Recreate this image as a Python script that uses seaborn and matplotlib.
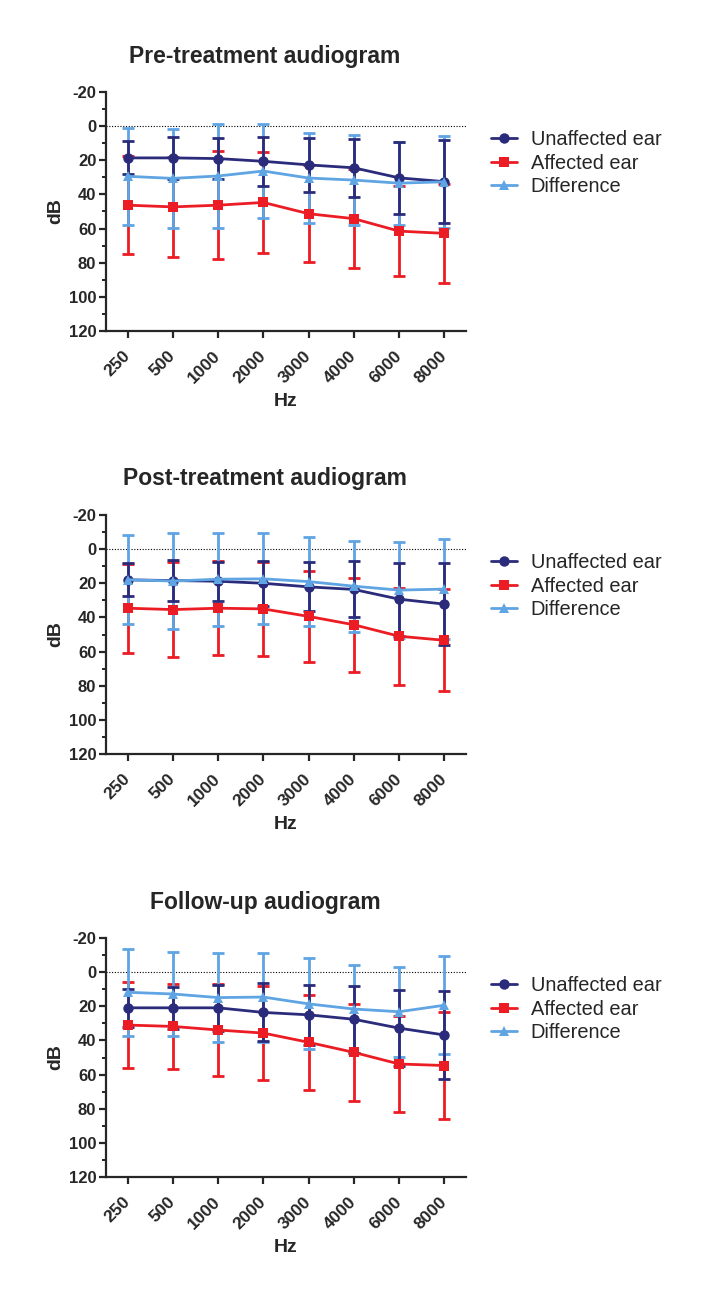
import matplotlib
matplotlib.use("Agg")
import matplotlib.pyplot as plt
import seaborn as sns
import pandas as pd
from matplotlib.ticker import MultipleLocator

freqs = ['250', '500', '1000', '2000', '3000', '4000', '6000', '8000']
titles = ['Pre-treatment audiogram', 'Post-treatment audiogram', 'Follow-up audiogram']
series_names = ['Unaffected ear', 'Affected ear', 'Difference']

# pre-treatment (mean, SD)
pre_unaff = [18.6, 18.6, 19.0, 20.6, 22.7, 24.4, 30.3, 32.5]
pre_unaff_sd = [9.7, 12.2, 12.2, 14.3, 15.8, 17.0, 21.0, 24.2]
pre_aff = [46.3, 47.3, 46.3, 44.7, 51.3, 54.2, 61.5, 62.8]
pre_aff_sd = [28.6, 29.3, 31.6, 29.5, 28.4, 29.1, 26.5, 29.0]
pre_diff = [29.4, 30.6, 29.2, 26.3, 30.4, 31.6, 33.4, 32.6]
pre_diff_sd = [28.6, 29.1, 30.7, 27.8, 26.5, 26.2, 24.4, 26.8]

# post-treatment
post_unaff = [18.0, 18.4, 18.8, 20.0, 22.1, 23.6, 29.3, 32.2]
post_unaff_sd = [9.6, 11.9, 11.5, 13.1, 14.4, 16.4, 21.3, 24.0]
post_aff = [34.6, 35.4, 34.6, 35.0, 39.4, 44.3, 51.0, 53.4]
post_aff_sd = [26.0, 28.0, 27.4, 27.5, 26.6, 27.4, 28.5, 29.8]
post_diff = [17.9, 18.7, 17.6, 17.4, 19.0, 21.7, 24.0, 23.4]
post_diff_sd = [26.1, 28.1, 27.3, 26.7, 26.2, 26.6, 28.0, 29.1]

# follow-up
fu_unaff = [20.9, 20.9, 20.9, 23.6, 25.0, 27.6, 32.8, 36.8]
fu_unaff_sd = [11.2, 12.4, 13.3, 17.0, 17.6, 19.6, 22.3, 26.0]
fu_aff = [31.0, 31.8, 33.9, 35.7, 41.1, 47.0, 53.8, 54.7]
fu_aff_sd = [25.0, 24.8, 26.7, 27.6, 28.0, 28.4, 28.4, 31.3]
fu_diff = [11.8, 12.8, 14.9, 14.6, 18.6, 21.6, 23.2, 19.4]
fu_diff_sd = [25.5, 24.7, 25.9, 26.1, 26.6, 25.6, 26.4, 28.6]

panels = [
    (pre_unaff, pre_unaff_sd, pre_aff, pre_aff_sd, pre_diff, pre_diff_sd),
    (post_unaff, post_unaff_sd, post_aff, post_aff_sd, post_diff, post_diff_sd),
    (fu_unaff, fu_unaff_sd, fu_aff, fu_aff_sd, fu_diff, fu_diff_sd),
]

colors = {'Unaffected ear': '#2B2B7B', 'Affected ear': '#EC1C24', 'Difference': '#5FA4E3'}
markers = {'Unaffected ear': 'o', 'Affected ear': 's', 'Difference': '^'}

sns.set_style('ticks')
plt.rcParams['font.family'] = ['Liberation Sans', 'DejaVu Sans']
plt.rcParams['axes.unicode_minus'] = False

fig = plt.figure(figsize=(7.05, 13.04), dpi=100)

ax_tops = [92, 515, 938]
ax_h = 239
left_px, right_px = 106, 466

for i, (u, usd, a, asd, d, dsd) in enumerate(panels):
    top = ax_tops[i]
    ax = fig.add_axes([left_px / 705, 1 - (top + ax_h) / 1304,
                       (right_px - left_px) / 705, ax_h / 1304])
    df = pd.DataFrame({
        'Hz': freqs * 3,
        'dB': u + a + d,
        'sd': usd + asd + dsd,
        'series': [series_names[0]] * 8 + [series_names[1]] * 8 + [series_names[2]] * 8,
    })

    # error bars: red, light blue, navy
    err_z = {'Affected ear': 2, 'Difference': 3, 'Unaffected ear': 4}
    for name in ['Affected ear', 'Difference', 'Unaffected ear']:
        sub = df[df['series'] == name]
        ax.errorbar(sub['Hz'], sub['dB'], yerr=sub['sd'], fmt='none',
                    ecolor=colors[name], elinewidth=2.0, capsize=4.5,
                    capthick=2.0, zorder=err_z[name])

    line_z = {'Affected ear': 5, 'Unaffected ear': 6, 'Difference': 7}
    for name in ['Affected ear', 'Unaffected ear', 'Difference']:
        sub = df[df['series'] == name]
        sns.lineplot(data=sub, x='Hz', y='dB', sort=False, ax=ax,
                     color=colors[name], marker=markers[name],
                     markersize=7.5, markeredgewidth=0, linewidth=2.0,
                     label=name, zorder=line_z[name])

    ax.axhline(0, color='black', linestyle=(0, (1, 1.5)), linewidth=0.8, zorder=1)

    ax.set_xlim(-0.48, 7.48)
    ax.set_ylim(120, -20)
    ax.yaxis.set_major_locator(MultipleLocator(20))
    ax.yaxis.set_minor_locator(MultipleLocator(10))
    sns.despine(ax=ax)
    for s in ['left', 'bottom']:
        ax.spines[s].set_linewidth(1.6)
    ax.tick_params(axis='y', which='major', length=5, width=1.6,
                   labelsize=12, pad=2)
    ax.tick_params(axis='x', which='major', length=5, width=1.6,
                   labelsize=12.5, pad=11)
    ax.tick_params(axis='y', which='minor', length=3, width=1.4)
    for lab in ax.get_yticklabels():
        lab.set_fontweight('bold')
    ax.set_xticks(range(len(freqs)))
    ax.set_xticklabels(freqs, rotation=45, ha='right', va='center',
                       rotation_mode='anchor', fontweight='bold', fontsize=12.5)
    ax.set_xlabel('Hz', fontsize=14, fontweight='bold', labelpad=5)
    ax.set_ylabel('dB', fontsize=14, fontweight='bold', labelpad=3)

    handles, labels = ax.get_legend_handles_labels()
    order = [labels.index(n) for n in series_names]
    ax.legend([handles[k] for k in order], series_names, loc='upper left',
              bbox_to_anchor=(1.019, 0.915), frameon=False, fontsize=14.4,
              handlelength=1.3, handletextpad=0.7, labelspacing=0.22)

    fig.text(265 / 705, 1 - (top - 36) / 1304, titles[i], ha='center',
             va='center', fontsize=16.5, fontweight='bold')

fig.savefig('out.png', dpi=100)
